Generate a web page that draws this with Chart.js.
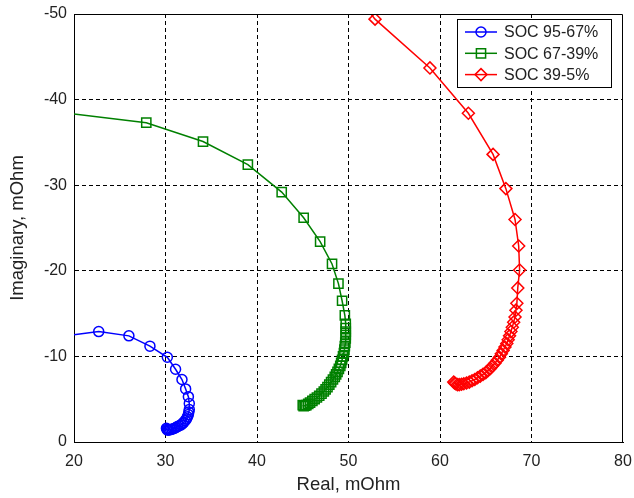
<!DOCTYPE html>
<html><head><meta charset="utf-8">
<script src="https://cdn.jsdelivr.net/npm/chart.js@4.4.1/dist/chart.umd.min.js"></script>
<style>html,body{margin:0;padding:0;background:#fff}#wrap{width:634px;height:498px;position:relative}</style>
</head><body><div id="wrap"><canvas id="c" width="634" height="498"></canvas></div>
<script>
// ---- data (Real, Imag in mOhm) ----
const seriesLabels = ['SOC 95-67%', 'SOC 67-39%', 'SOC 39-5%'];
const xTicks = [20, 30, 40, 50, 60, 70, 80];
const yTicks = [0, -10, -20, -30, -40, -50];

const soc95Real = [17.5, 22.7, 26.0, 28.3, 30.2, 31.1, 31.8, 32.2, 32.5, 32.6, 32.6, 32.55, 32.5, 32.4, 32.3, 32.15, 32.0, 31.85, 31.7, 31.5, 31.3, 31.15, 31.0, 30.85, 30.7, 30.55, 30.4, 30.3, 30.2, 30.15, 30.1];
const soc95Imag = [-12.2, -12.9, -12.4, -11.2, -9.9, -8.5, -7.3, -6.2, -5.3, -4.5, -3.8, -3.5, -3.2, -2.95, -2.7, -2.5, -2.3, -2.15, -2.0, -1.9, -1.8, -1.7, -1.6, -1.55, -1.5, -1.45, -1.4, -1.4, -1.4, -1.5, -1.6];

const soc67Real = [17.0, 27.9, 34.1, 39.0, 42.7, 45.1, 46.9, 48.2, 48.9, 49.3, 49.6, 49.7, 49.7, 49.7, 49.7, 49.7, 49.65, 49.6, 49.55, 49.5, 49.4, 49.3, 49.2, 49.1, 48.95, 48.8, 48.65, 48.5, 48.3, 48.1, 47.9, 47.7, 47.5, 47.3, 47.05, 46.8, 46.55, 46.3, 46.05, 45.8, 45.6, 45.4, 45.25, 45.1, 45.0];
const soc67Imag = [-38.7, -37.3, -35.1, -32.4, -29.2, -26.2, -23.4, -20.8, -18.5, -16.5, -14.8, -13.8, -13.3, -12.9, -12.5, -12.1, -11.6, -11.2, -10.8, -10.4, -10.0, -9.6, -9.25, -8.9, -8.55, -8.2, -7.9, -7.6, -7.3, -7.0, -6.7, -6.4, -6.15, -5.9, -5.65, -5.4, -5.2, -5.0, -4.8, -4.6, -4.45, -4.3, -4.25, -4.2, -4.3];

const soc39Real = [51.7, 52.9, 58.9, 63.1, 65.8, 67.2, 68.2, 68.6, 68.7, 68.5, 68.4, 68.3, 68.2, 68.05, 67.9, 67.75, 67.6, 67.45, 67.3, 67.1, 66.9, 66.7, 66.5, 66.25, 66.0, 65.75, 65.5, 65.25, 65.0, 64.7, 64.4, 64.1, 63.8, 63.5, 63.2, 62.9, 62.6, 62.35, 62.1, 61.9, 61.7, 61.6, 61.5];
const soc39Imag = [-51.0, -49.4, -43.7, -38.4, -33.6, -29.6, -26.0, -22.9, -20.1, -18.0, -16.2, -15.4, -14.6, -14.0, -13.4, -12.9, -12.4, -11.95, -11.5, -11.1, -10.7, -10.3, -9.9, -9.55, -9.2, -8.9, -8.6, -8.35, -8.1, -7.9, -7.7, -7.5, -7.3, -7.15, -7.0, -6.9, -6.8, -6.75, -6.7, -6.7, -6.8, -6.9, -7.0];

const seriesColors = ['#0000ff', '#008000', '#ff0000'];
const seriesMarkers = ['circle', 'rect', 'rectRot'];
const seriesRadius = [5, 6.5, 6];

function pts(xs, ys) { return xs.map((x, i) => ({ x: x, y: ys[i] })); }
const seriesData = [pts(soc95Real, soc95Imag), pts(soc67Real, soc67Imag), pts(soc39Real, soc39Imag)];

const FONT = "'Liberation Sans', Arial, Helvetica, sans-serif";
const TXT = '#222222';

const datasets = seriesData.map((d, i) => ({
  label: seriesLabels[i],
  data: d,
  showLine: true,
  borderColor: seriesColors[i],
  backgroundColor: 'rgba(0,0,0,0)',
  borderWidth: 1.5,
  tension: 0,
  pointStyle: seriesMarkers[i],
  pointRadius: seriesRadius[i],
  pointHoverRadius: seriesRadius[i],
  pointBorderColor: seriesColors[i],
  pointBackgroundColor: 'rgba(0,0,0,0)',
  pointBorderWidth: 1.5
}));

function drawMarker(ctx, style, x, y, r) {
  ctx.beginPath();
  if (style === 'circle') {
    ctx.arc(x, y, r, 0, Math.PI * 2);
  } else if (style === 'rect') {
    const s = Math.SQRT1_2 * r;
    ctx.rect(x - s, y - s, 2 * s, 2 * s);
  } else {
    ctx.moveTo(x - r, y); ctx.lineTo(x, y - r); ctx.lineTo(x + r, y); ctx.lineTo(x, y + r); ctx.closePath();
  }
  ctx.stroke();
}

const framePlugin = {
  id: 'frameAndLegend',
  afterDraw(chart) {
    const ctx = chart.ctx, a = chart.chartArea;
    ctx.save();
    ctx.strokeStyle = '#000'; ctx.lineWidth = 1; ctx.setLineDash([]);
    const t = Math.round(a.top) + 0.5, r = Math.round(a.right) - 0.5;
    ctx.beginPath();
    ctx.moveTo(Math.round(a.left), t); ctx.lineTo(r, t); ctx.lineTo(r, Math.round(a.bottom));
    ctx.stroke();
    // legend box
    const bx = 457.5, by = 19.5, bw = 154, bh = 68;
    ctx.fillStyle = '#fff';
    ctx.fillRect(bx, by, bw, bh);
    ctx.strokeRect(bx, by, bw, bh);
    ctx.font = '16px ' + FONT;
    ctx.textBaseline = 'middle';
    ctx.textAlign = 'left';
    chart.data.datasets.forEach((ds, i) => {
      const yy = 32 + i * 21.3;
      ctx.strokeStyle = ds.borderColor; ctx.lineWidth = 1.5;
      ctx.beginPath(); ctx.moveTo(465, yy); ctx.lineTo(497, yy); ctx.stroke();
      drawMarker(ctx, seriesMarkers[i], 481, yy, seriesRadius[i]);
      ctx.fillStyle = TXT;
      ctx.fillText(ds.label, 504, yy + 1);
    });
    ctx.restore();
  }
};

new Chart(document.getElementById('c'), {
  type: 'scatter',
  data: { datasets: datasets },
  plugins: [framePlugin],
  options: {
    responsive: false,
    animation: false,
    devicePixelRatio: 1,
    layout: { padding: { top: 14, right: 11, left: 0, bottom: 0 } },
    plugins: { legend: { display: false }, tooltip: { enabled: false } },
    scales: {
      x: {
        type: 'linear', min: xTicks[0], max: xTicks[xTicks.length - 1],
        afterFit: s => { s.height = 56; s.paddingLeft = 0; s.paddingRight = 0; },
        afterBuildTicks: s => { s.ticks = xTicks.map(v => ({ value: v })); },
        ticks: { color: TXT, font: { family: FONT, size: 16 }, padding: 10, maxRotation: 0 },
        grid: {
          drawTicks: false, lineWidth: 1,
          color: c => (c.tick && (c.tick.value === 20 || c.tick.value === 80)) ? 'rgba(0,0,0,0)' : '#000'
        },
        border: { display: true, color: '#000', width: 1, dash: [4, 3] },
        title: { display: true, text: 'Real, mOhm', color: TXT, font: { family: FONT, size: 18.5 }, padding: { top: 0, bottom: 2 } }
      },
      y: {
        type: 'linear', min: -50, max: 0, reverse: true,
        afterFit: s => { s.width = 74; s.paddingTop = 0; s.paddingBottom = 0; },
        afterBuildTicks: s => { s.ticks = yTicks.map(v => ({ value: v })); },
        ticks: { color: TXT, font: { family: FONT, size: 16 }, padding: 7 },
        grid: {
          drawTicks: false, lineWidth: 1,
          color: c => (c.tick && (c.tick.value === 0 || c.tick.value === -50)) ? 'rgba(0,0,0,0)' : '#000'
        },
        border: { display: true, color: '#000', width: 1, dash: [4, 3] },
        title: { display: true, text: 'Imaginary, mOhm', color: TXT, font: { family: FONT, size: 18.5 }, padding: { top: 7, bottom: 0 } }
      }
    }
  }
});
</script></body></html>
